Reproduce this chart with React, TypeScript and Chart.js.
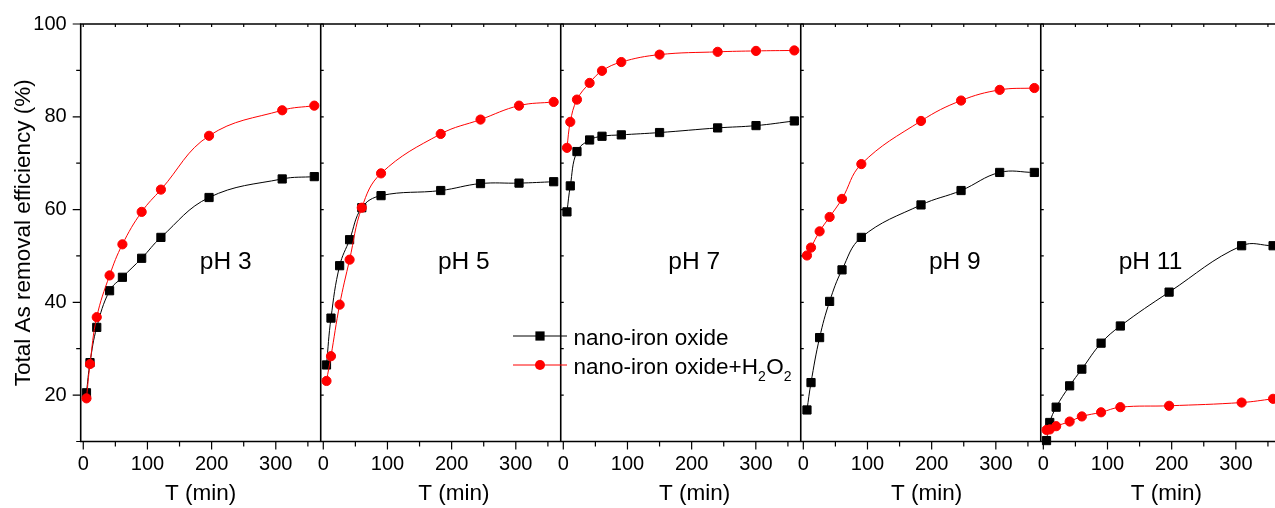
import { useEffect, useRef } from 'react';
import { Chart, registerables } from 'chart.js';

Chart.register(...registerables);

// ---------- data ----------
const panelLabels = ['pH 3', 'pH 5', 'pH 7', 'pH 9', 'pH 11'];

const timePH3 = [5, 10.5, 21, 41, 61, 91, 121, 196, 310, 360];
const timePH5 = [5, 12, 25.5, 41, 60, 90, 183, 245, 305, 359];
const timePH7 = [5.7, 10.9, 21.3, 41, 60.3, 90.4, 150, 240.5, 300.3, 360];
const timePH9 = [5.7, 12, 25.4, 41, 60.3, 90.4, 183.4, 245.8, 306, 360];
const timePH11 = [5, 10, 20, 41, 60, 90, 120, 196, 309, 358];

const ironPH3 = [20.5, 27, 34.6, 42.5, 45.4, 49.5, 54, 62.6, 66.6, 67.1];
const ironPH5 = [26.5, 36.6, 47.9, 53.5, 60.4, 63, 64.1, 65.6, 65.7, 66];
const ironPH7 = [59.5, 65.1, 72.5, 75.0, 75.8, 76.1, 76.6, 77.6, 78.1, 79.1];
const ironPH9 = [16.8, 22.7, 32.4, 40.2, 47.0, 54.0, 61.0, 64.1, 68.0, 68.0];
const ironPH11 = [10.2, 14.1, 17.4, 22.0, 25.6, 31.2, 34.9, 42.2, 52.2, 52.2];

const ironH2O2PH3 = [19.3, 26.7, 36.8, 45.8, 52.5, 59.5, 64.3, 75.9, 81.4, 82.4];
const ironH2O2PH5 = [23.05, 28.4, 39.5, 49.2, 60.4, 67.8, 76.3, 79.4, 82.4, 83.2];
const ironH2O2PH7 = [73.3, 78.9, 83.7, 87.3, 89.9, 91.8, 93.4, 94.0, 94.2, 94.3];
const ironH2O2PH9 = [50.1, 51.8, 55.3, 58.4, 62.3, 69.8, 79.1, 83.5, 85.8, 86.2];
const ironH2O2PH11 = [12.5, 12.6, 13.3, 14.3, 15.4, 16.3, 17.4, 17.7, 18.4, 19.2];

const seriesNames = ['nano-iron oxide', 'nano-iron oxide+H2O2'];
const xTickValues = [0, 50, 100, 150, 200, 250, 300, 350];
const yTickValues = [10, 20, 30, 40, 50, 60, 70, 80, 90, 100];

const panelTimes = [timePH3, timePH5, timePH7, timePH9, timePH11];
const panelIron = [ironPH3, ironPH5, ironPH7, ironPH9, ironPH11];
const panelIronH2O2 = [ironH2O2PH3, ironH2O2PH5, ironH2O2PH7, ironH2O2PH9, ironH2O2PH11];

// ---------- layout ----------
const SPAN = 374; // x-units per panel
const X_MIN = -4;
const X_MAX = 4 * SPAN + 361;
const FONT = '"Liberation Sans", Arial, Helvetica, sans-serif';
const phLabelX = [222, 219, 204, 236, 167];
const phLabelY = 48.7;
const titleX = [183, 203.6, 204.7, 192.3, 191.6];

const framePlugin = {
  id: 'frame',
  beforeDatasetsDraw(chart: any) {
    const { ctx, chartArea, scales } = chart;
    const { left, right, top, bottom } = chartArea;
    const x = scales.x;
    const y = scales.y;
    ctx.save();
    ctx.strokeStyle = '#000';
    ctx.lineWidth = 1.6;
    ctx.beginPath();
    ctx.moveTo(left, top);
    ctx.lineTo(right + 1, top);
    ctx.moveTo(left - 0.8, bottom);
    ctx.lineTo(right + 1, bottom);
    for (let i = 0; i < panelLabels.length; i++) {
      const px = x.getPixelForValue(i * SPAN + X_MIN);
      ctx.moveTo(px, top - 0.8);
      ctx.lineTo(px, bottom + 0.8);
    }
    ctx.stroke();

    ctx.lineWidth = 1.2;
    ctx.beginPath();
    for (const v of yTickValues) {
      const py = y.getPixelForValue(v);
      const len = v % 20 === 0 ? 8 : 4.5;
      ctx.moveTo(left - len, py);
      ctx.lineTo(left, py);
      for (let i = 1; i < panelLabels.length; i++) {
        const px = x.getPixelForValue(i * SPAN + X_MIN);
        ctx.moveTo(px, py);
        ctx.lineTo(px + 3, py);
      }
    }
    for (let i = 0; i < panelLabels.length; i++) {
      for (const v of xTickValues) {
        const px = x.getPixelForValue(i * SPAN + v);
        if (px > right + 1) continue;
        const len = v % 100 === 0 ? 8 : 5;
        ctx.moveTo(px, bottom);
        ctx.lineTo(px, bottom + len);
        ctx.moveTo(px, top);
        ctx.lineTo(px, top + 3);
      }
    }
    ctx.stroke();
    ctx.restore();
  },
  afterDraw(chart: any) {
    const { ctx, scales } = chart;
    const x = scales.x;
    const y = scales.y;
    ctx.save();
    ctx.fillStyle = '#000';
    ctx.textAlign = 'center';
    ctx.textBaseline = 'middle';
    ctx.font = `24.5px ${FONT}`;
    panelLabels.forEach((lab, i) => {
      ctx.fillText(lab, x.getPixelForValue(i * SPAN + phLabelX[i]), y.getPixelForValue(phLabelY));
    });
    ctx.font = `22.5px ${FONT}`;
    panelLabels.forEach((_, i) => {
      ctx.fillText('T (min)', x.getPixelForValue(i * SPAN + titleX[i]), 494);
    });

    // legend
    const lx0 = 513, lx1 = 567, lm = 540, tx = 573.5;
    const rows = [336, 365];
    ctx.textAlign = 'left';
    ctx.textBaseline = 'alphabetic';
    ctx.strokeStyle = '#000';
    ctx.lineWidth = 1;
    ctx.beginPath();
    ctx.moveTo(lx0, rows[0]);
    ctx.lineTo(lx1, rows[0]);
    ctx.stroke();
    ctx.fillStyle = '#000';
    ctx.fillRect(lm - 4.6, rows[0] - 4.6, 9.2, 9.2);
    ctx.font = `22.5px ${FONT}`;
    ctx.fillText(seriesNames[0], tx, rows[0] + 8.5);
    ctx.strokeStyle = '#ff0000';
    ctx.beginPath();
    ctx.moveTo(lx0, rows[1]);
    ctx.lineTo(lx1, rows[1]);
    ctx.stroke();
    ctx.fillStyle = '#ff0000';
    ctx.beginPath();
    ctx.arc(lm, rows[1], 5, 0, Math.PI * 2);
    ctx.fill();
    ctx.fillStyle = '#000';
    const base = rows[1] + 8.5;
    let cx = tx;
    const parts: [string, boolean][] = [['nano-iron oxide+H', false], ['2', true], ['O', false], ['2', true]];
    for (const [s, sub] of parts) {
      ctx.font = sub ? `14px ${FONT}` : `22.5px ${FONT}`;
      ctx.fillText(s, cx, sub ? base + 7 : base);
      cx += ctx.measureText(s).width + (sub ? 0.5 : 0);
    }
    ctx.restore();
  },
};

export default function App() {
  const ref = useRef<HTMLCanvasElement | null>(null);
  useEffect(() => {
    if (!ref.current) return;
    const datasets: any[] = [];
    panelTimes.forEach((times, i) => {
      datasets.push({
        label: seriesNames[1],
        data: times.map((t, k) => ({ x: i * SPAN + t, y: panelIronH2O2[i][k] })),
        borderColor: '#ff0000',
        backgroundColor: '#ff0000',
        borderWidth: 1,
        pointStyle: 'circle',
        pointRadius: 4.6,
        pointBorderWidth: 1,
        tension: 0.4,
        clip: false,
        order: 1,
      });
      datasets.push({
        label: seriesNames[0],
        data: times.map((t, k) => ({ x: i * SPAN + t, y: panelIron[i][k] })),
        borderColor: '#000000',
        backgroundColor: '#000000',
        borderWidth: 1,
        pointStyle: 'rect',
        pointRadius: 5.8,
        pointBorderWidth: 1,
        tension: 0.4,
        clip: false,
        order: 2,
      });
    });

    const chart = new Chart(ref.current, {
      type: 'line',
      data: { datasets },
      plugins: [framePlugin],
      options: {
        animation: false,
        responsive: false,
        layout: { autoPadding: false, padding: { top: 24, left: 0, right: 0, bottom: 0 } },
        plugins: { legend: { display: false }, tooltip: { enabled: false } },
        scales: {
          x: {
            type: 'linear',
            min: X_MIN,
            max: X_MAX,
            grid: { display: false, drawTicks: false },
            border: { display: false },
            afterBuildTicks: (scale: any) => {
              const ticks: any[] = [];
              for (let i = 0; i < panelLabels.length; i++) {
                for (const v of xTickValues) {
                  const val = i * SPAN + v;
                  if (val <= X_MAX) ticks.push({ value: val });
                }
              }
              scale.ticks = ticks;
            },
            afterFit: (scale: any) => {
              scale.height = 66.5;
              scale.paddingLeft = 0;
              scale.paddingRight = 0;
            },
            ticks: {
              autoSkip: false,
              maxRotation: 0,
              padding: 11,
              color: '#000',
              font: { family: FONT, size: 20 },
              callback: (value: any) => {
                const v = Number(value);
                const i = Math.floor((v + 10) / SPAN);
                const local = Math.round(v - i * SPAN);
                return local % 100 === 0 ? String(local) : '';
              },
            },
          },
          y: {
            type: 'linear',
            min: 10,
            max: 100,
            grid: { display: false, drawTicks: false },
            border: { display: false },
            afterBuildTicks: (scale: any) => {
              scale.ticks = yTickValues.map((v) => ({ value: v }));
            },
            afterFit: (scale: any) => {
              scale.width = 80.7;
              scale.paddingTop = 0;
              scale.paddingBottom = 0;
            },
            ticks: {
              padding: 14,
              color: '#000',
              font: { family: FONT, size: 20 },
              callback: (value: any) => (Number(value) % 20 === 0 ? String(value) : ''),
            },
            title: {
              display: true,
              text: 'Total As removal efficiency (%)',
              color: '#000',
              font: { family: FONT, size: 22.5 },
              padding: { top: 10, bottom: 0 },
            },
          },
        },
      },
    });
    return () => chart.destroy();
  }, []);

  return (
    <div style={{ position: 'fixed', left: 0, top: 0, width: 1275, height: 508, background: '#fff' }}>
      <canvas ref={ref} width={1275} height={508} style={{ display: 'block', width: 1275, height: 508 }} />
    </div>
  );
}
